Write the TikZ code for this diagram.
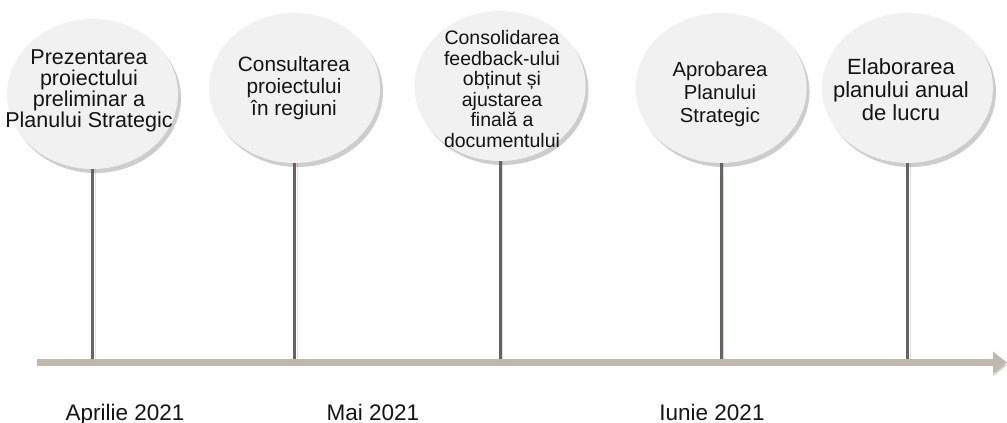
\documentclass[tikz,border=0pt]{standalone}
\usepackage{fontspec}
\setmainfont{Liberation Sans}
\usetikzlibrary{shapes.geometric,shadows,arrows.meta}
\definecolor{bubblefill}{RGB}{241,241,241}
\definecolor{axiscol}{RGB}{192,183,173}
\definecolor{stemcol}{RGB}{104,98,96}
\definecolor{txt}{RGB}{20,20,20}
\begin{document}
\begin{tikzpicture}[x=1pt,y=-1pt,
 bubble/.style={ellipse, minimum width=171pt, minimum height=150pt, inner sep=0pt,
   fill=bubblefill, draw=none,
   drop shadow={shadow xshift=3pt, shadow yshift=-4pt, opacity=0.28, fill=black!70}},
 btext/.style={align=center, text=txt, inner sep=0pt},
 stemline/.style={draw=stemcol, line width=3pt,
   preaction={draw=black, opacity=0.12, transform canvas={xshift=2.5pt}}},
 axisline/.style={draw=axiscol, line width=7.5pt, -{Triangle[length=14pt, width=21pt]},
   preaction={draw=black, opacity=0.15, transform canvas={yshift=-3pt}}},
 datelabel/.style={anchor=base, text=txt, inner sep=0pt, font=\fontsize{22.5}{22.5}\selectfont}]
\useasboundingbox (0,0) rectangle (1007,423);

% axis
\coordinate (ax0) at (37,362.5);
\coordinate (ax1) at (1007,362.5);
\coordinate (axtop) at (0,359);
\draw[axisline] (ax0) -- (ax1);

% bubbles
\node[bubble] (c1) at (92.5,94) {};
\node[bubble] (c2) at (294.5,88) {};
\node[bubble] (c3) at (500,86) {};
\node[bubble] (c4) at (721,88) {};
\node[bubble] (c5) at (907.5,88) {};

% stems
\draw[stemline] (c1.south) -- (c1.south |- axtop);
\draw[stemline] (c2.south) -- (c2.south |- axtop);
\draw[stemline] (c3.south) -- (c3.south |- axtop);
\draw[stemline] (c4.south) -- (c4.south |- axtop);
\draw[stemline] (c5.south) -- (c5.south |- axtop);

% texts
\node[btext, font=\fontsize{21.5}{21}\selectfont] (t1) at (89,91)
  {Prezentarea\\proiectului\\preliminar a\\Planului Strategic};
\node[btext, font=\fontsize{20.8}{21.7}\selectfont] (t2) at (294,88)
  {Consultarea\\proiectului\\ în regiuni};
\node[btext, font=\fontsize{19.5}{20.5}\selectfont] (t3) at (502,89)
  {Consolidarea\\feedback-ului\\obținut și\\ajustarea\\finală a\\documentului};
\node[btext, font=\fontsize{20.3}{23}\selectfont] (t4) at (720,94)
  {Aprobarea\\Planului\\Strategic};
\node[btext, font=\fontsize{22}{23}\selectfont] (t5) at (901,90)
  {Elaborarea\\planului anual\\de lucru};

% dates
\node[datelabel] (d1) at (125,420) {Aprilie 2021};
\node[datelabel] (d2) at (373,420) {Mai 2021};
\node[datelabel] (d3) at (712,420) {Iunie 2021};
\end{tikzpicture}
\end{document}
